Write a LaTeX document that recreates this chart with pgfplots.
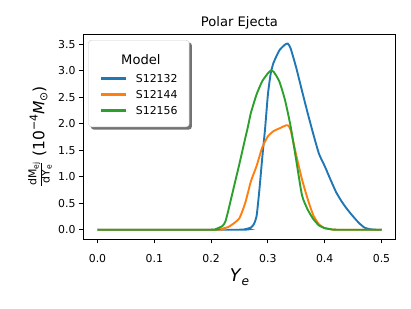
\documentclass[border=0pt]{standalone}
\usepackage{fontspec}
\setmainfont{DejaVu Sans}
\usepackage{pgfplots}
\pgfplotsset{compat=1.18}
\pgfdeclarelayer{background}
\pgfsetlayers{background,main}
\definecolor{tabblue}{HTML}{1F77B4}
\definecolor{taborange}{HTML}{FF7F0E}
\definecolor{tabgreen}{HTML}{2CA02C}
\newcommand{\ylab}{%
\fontsize{15.5}{15.5}\selectfont
$\hbox{\fontsize{10.9}{10.9}\selectfont dM\raisebox{-0.35ex}{\fontsize{7.6}{7.6}\selectfont ej}}\over\hbox{\fontsize{10.9}{10.9}\selectfont dY\raisebox{-0.35ex}{\fontsize{7.6}{7.6}\selectfont e}}$
(10\raisebox{0.8ex}{\fontsize{10.9}{10.9}\selectfont −4}\textit{M}\raisebox{-0.35ex}{\fontsize{10.9}{10.9}\selectfont ⊙})}
\begin{document}
\begin{tikzpicture}
\path[use as bounding box] (-83.3pt,-69pt) rectangle (327.7pt,239pt);
\begin{axis}[
  at={(0,0)}, anchor=south west,
  scale only axis, width=312.4pt, height=204.7pt,
  xmin=-0.025, xmax=0.525, ymin=-0.1755, ymax=3.6855,
  xtick={0,0.1,0.2,0.3,0.4,0.5},
  xticklabels={0.0,0.1,0.2,0.3,0.4,0.5},
  ytick={0,0.5,1,1.5,2,2.5,3,3.5},
  yticklabels={0.0,0.5,1.0,1.5,2.0,2.5,3.0,3.5},
  /pgf/number format/assume math mode=true,
  tick align=outside, tick pos=left, major tick length=4.3pt,
  every tick/.style={black, line width=0.87pt},
  axis line style={line width=0.87pt},
  tick label style={font=\fontsize{10.9}{12}\selectfont},
  xticklabel style={yshift=-8pt},
  title={Polar Ejecta},
  every axis title/.style={at={(axis description cs:0.5,1)}, anchor=base, yshift=7.6pt, font=\fontsize{13.1}{14}\selectfont},
  xlabel={\textit{Y}\raisebox{-0.35ex}{\fontsize{12.2}{12}\selectfont\textit{e}}},
  every axis x label/.style={at={(axis description cs:0.5,-0.2086)}, anchor=base, font=\fontsize{17.5}{18}\selectfont},
  ylabel={\ylab},
  every axis y label/.style={at={(axis description cs:-0.1248,0.5)}, anchor=base, rotate=90},
  legend cell align=left,
  legend image code/.code={\path[draw, #1, line width=2.4pt] (0pt,0pt) -- (24.3pt,0pt);},
  legend style={at={(axis description cs:0.016,0.972)}, anchor=north west,
    name=leg,
    draw=black!20, rounded corners=3pt, fill=white,
    inner xsep=11.7pt, inner ysep=11.3pt,
    nodes={inner sep=0pt, text height=9pt, text depth=1pt},
    row sep=6pt,
    /tikz/every odd column/.append style={column sep=9pt},
    font=\fontsize{10.9}{12}\selectfont},
]
\addlegendimage{empty legend}
\addlegendentry[text height=12.8pt, text depth=3.2pt]{\hspace*{5pt}\makebox[0pt][c]{\fontsize{13.1}{13}\selectfont Model}}
\addplot[tabblue, line width=1.9pt, smooth, tension=0.35] coordinates {
(0,0)(0.25,0)(0.26,0.01)(0.27,0.04)(0.275,0.1)(0.28,0.25)(0.285,0.75)(0.29,1.35)(0.295,1.9)(0.30,2.55)(0.305,2.95)(0.31,3.15)(0.32,3.38)(0.33,3.49)(0.335,3.51)(0.34,3.42)(0.35,3.05)(0.36,2.62)(0.37,2.2)(0.38,1.8)(0.39,1.43)(0.40,1.2)(0.41,0.95)(0.42,0.71)(0.43,0.53)(0.44,0.38)(0.45,0.25)(0.46,0.13)(0.47,0.04)(0.48,0.01)(0.49,0)(0.5,0)
};
\addlegendentry{S12132}
\addplot[taborange, line width=1.9pt, smooth, tension=0.35] coordinates {
(0,0)(0.21,0)(0.22,0.02)(0.23,0.05)(0.24,0.12)(0.25,0.22)(0.26,0.5)(0.27,0.91)(0.28,1.2)(0.29,1.55)(0.30,1.76)(0.31,1.86)(0.32,1.91)(0.33,1.96)(0.335,1.97)(0.34,1.88)(0.35,1.4)(0.36,0.95)(0.37,0.58)(0.38,0.27)(0.39,0.1)(0.40,0.03)(0.41,0.01)(0.42,0)(0.5,0)
};
\addlegendentry{S12144}
\addplot[tabgreen, line width=1.9pt, smooth, tension=0.35] coordinates {
(0,0)(0.20,0)(0.21,0.02)(0.22,0.07)(0.225,0.15)(0.23,0.35)(0.24,0.8)(0.25,1.25)(0.26,1.72)(0.265,1.95)(0.27,2.2)(0.28,2.55)(0.29,2.8)(0.30,2.95)(0.305,3.0)(0.31,2.98)(0.32,2.8)(0.33,2.45)(0.34,1.95)(0.35,1.3)(0.36,0.65)(0.37,0.38)(0.38,0.2)(0.39,0.08)(0.40,0.03)(0.41,0.01)(0.42,0)(0.5,0)
};
\addlegendentry{S12156}
\end{axis}
\begin{pgfonlayer}{background}
\fill[black!55, rounded corners=3pt] ([shift={(2.5pt,-2.5pt)}]leg.south west) rectangle ([shift={(2.5pt,-2.5pt)}]leg.north east);
\end{pgfonlayer}
\end{tikzpicture}
\end{document}
